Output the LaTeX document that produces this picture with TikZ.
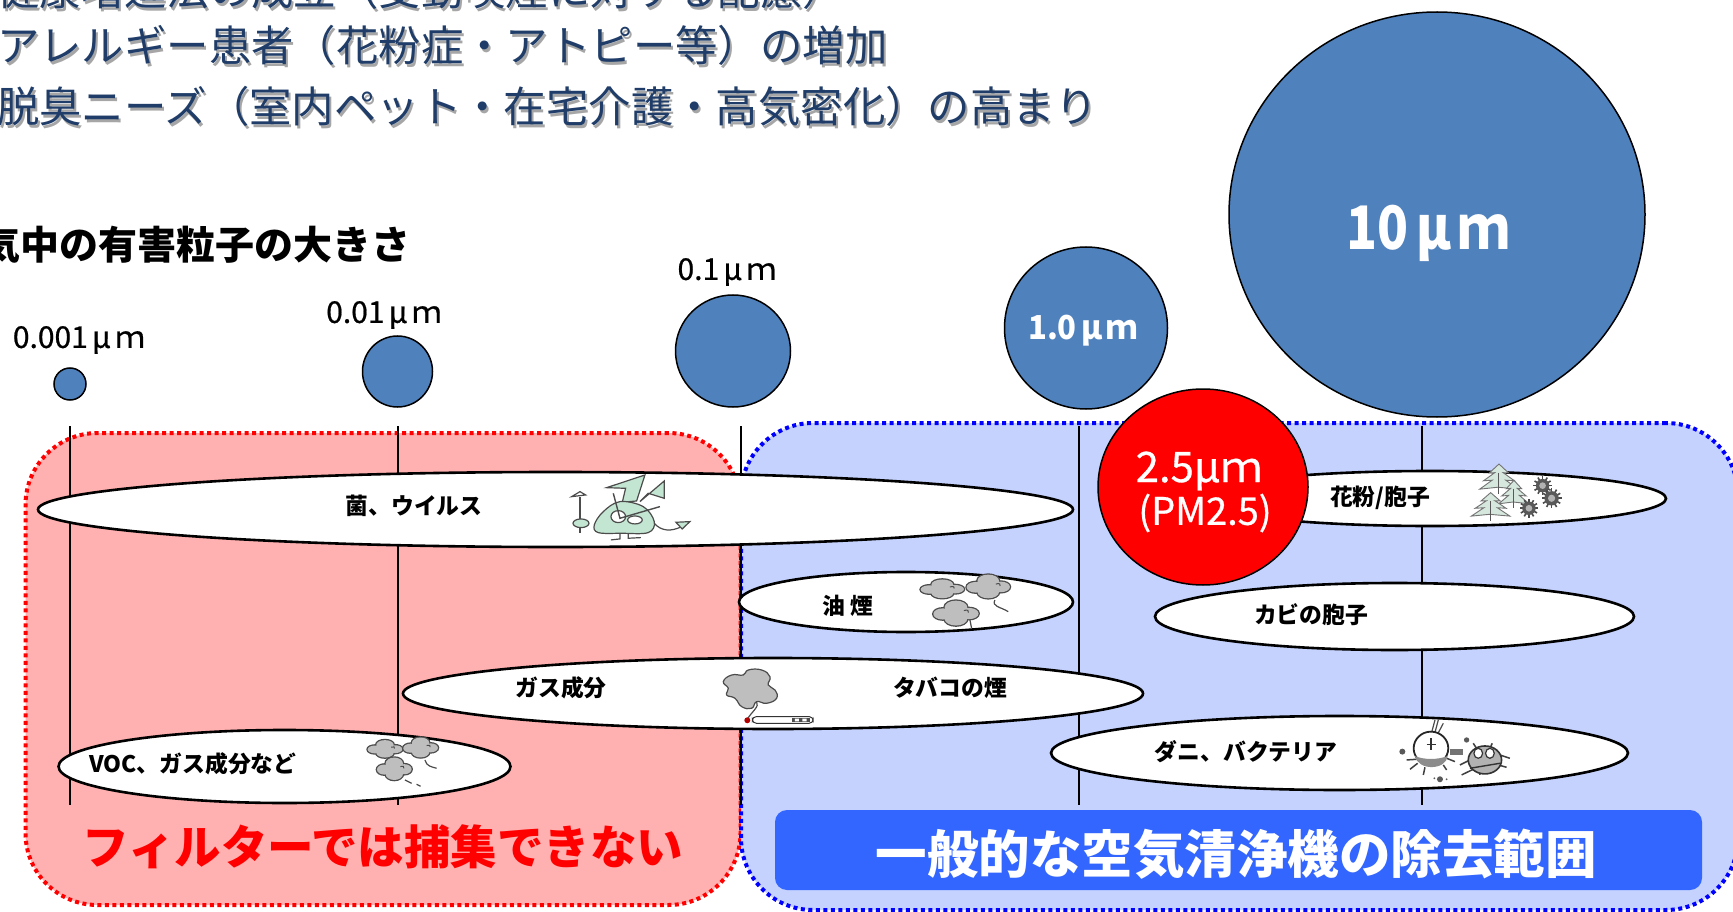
\documentclass[tikz,border=0pt]{standalone}
\usepackage{fontspec}
\usetikzlibrary{shapes,positioning}
\newfontfamily\jp{Noto Sans CJK JP}
\newfontfamily\jpmid[RawFeature={embolden=0.7}]{Noto Sans CJK JP}
\definecolor{headblue}{HTML}{1F3D68}
\definecolor{ballblue}{HTML}{4F81BD}
\definecolor{filterpink}{HTML}{FFB0B0}
\definecolor{cleanerblue}{HTML}{C5D2FD}
\definecolor{bannerblue}{HTML}{3366FF}
\definecolor{smoke}{HTML}{BEBEBE}
\definecolor{germ}{HTML}{C3E6D2}
\definecolor{pinegreen}{HTML}{D6E8DE}
\tikzstyle{head}=[font=\jp\fontsize{42.4}{50}\selectfont, text=headblue, anchor=west, inner sep=0]
\tikzstyle{headshadow}=[head, text=black!35]
\tikzstyle{ball}=[draw=black, line width=1.5pt, fill=ballblue, ellipse, inner sep=0]
\tikzstyle{size}=[font=\jpmid\fontsize{30}{36}\selectfont, inner sep=0]
\tikzstyle{particle}=[draw=black, line width=2.6pt, fill=white, ellipse, inner sep=0]
\tikzstyle{lbl}=[font=\jp\bfseries\fontsize{22.8}{27}\selectfont, inner sep=0]
\tikzstyle{zone}=[line width=4pt, dash pattern=on 4pt off 3.5pt, rounded corners=72pt, inner sep=0]
\tikzstyle{tick}=[draw=black, line width=2pt]
\tikzstyle{outline}=[draw=black!70, line width=1.2pt]
\newcommand{\headline}[3]{
    \node[headshadow] (#1s) at (0,#2) [xshift=-1pt, yshift=-3pt] {#3};
    \node[head] (#1) at (-3,#2) {#3};
}
\newcommand{\um}{\hspace{.14em}μ\hspace{.14em}ｍ}
\tikzset{
    puff/.pic={
        \foreach \cx/\cy/\r in {-0.58/0.05/0.42,0/-0.45/0.5,0.58/0.02/0.42,0/0.42/0.5} {
            \draw[draw=black!70, line width=2.6pt] (\cx,\cy) circle (\r);
        }
        \foreach \cx/\cy/\r in {-0.58/0.05/0.42,0/-0.45/0.5,0.58/0.02/0.42,0/0.42/0.5} {
            \fill[smoke] (\cx,\cy) circle (\r);
        }
        \fill[smoke] (0,0) circle (0.5);
        \draw[draw=black!70, line width=1pt] (0.35,-0.2) .. controls (0.5,-0.3) and (0.6,-0.2) .. (0.55,-0.05);
    },
    pine/.pic={
        \draw[draw=black!55, line width=0.9pt, fill=pinegreen] (0,-1) -- (-0.5,-0.4) -- (-0.22,-0.42) -- (-0.8,0.12) -- (-0.35,0.08) -- (-1,0.68) -- (-0.05,0.55) -- (1,0.68) -- (0.35,0.08) -- (0.8,0.12) -- (0.22,-0.42) -- (0.5,-0.4) -- cycle;
        \draw[draw=black!65, line width=1pt] (0,-0.4) -- (0,1);
    },
    spore/.pic={
        \foreach \a in {0,30,...,330} \draw[draw=black!70, line width=1.6pt] (0,0) -- (\a:1);
        \fill[black!65] (0,0) circle (0.72);
        \fill[black!30] (0,0) circle (0.36);
    }
}
\begin{document}
\begin{tikzpicture}[x=1pt,y=-1pt]
    \path[use as bounding box, clip] (0,0) rectangle (1733,912);

    \headline{lawline}{-11}{健康増進法の成立（受動喫煙に対する配慮）}
    \headline{allergyline}{45}{アレルギー患者（花粉症・アトピー等）の増加}
    \headline{odorline}{106}{脱臭ニーズ（室内ペット・在宅介護・高気密化）の高まり}
    \node[font=\jp\bfseries\fontsize{39}{46}\selectfont, anchor=east, inner sep=0] (sizetitle) at (411,245) {空気中の有害粒子の大きさ};

    \node[zone, draw=red, fill=filterpink, minimum width=715pt, minimum height=472pt] (filterzone) at (383,669) {};
    \node[zone, draw=blue, fill=cleanerblue, minimum width=997pt, minimum height=487pt] (cleanerzone) at (1239.5,666.5) {};

    \foreach \name/\xpos in {a/69.5,b/398,c/741,d/1079,e/1422} {
        \coordinate (top\name) at (\xpos,426);
        \coordinate (bot\name) at (\xpos,805);
        \draw[tick] (top\name) -- (bot\name);
    }

    \node[ball, minimum width=32pt, minimum height=32pt] (ballA) at (70,384) {};
    \node[ball, minimum width=70pt, minimum height=71pt] (ballB) at (397.5,371.5) {};
    \node[ball, minimum width=115pt, minimum height=112pt] (ballC) at (733,351) {};
    \node[ball, minimum width=163pt, minimum height=162pt] (ballD) at (1086,328) {};
    \node[ball, minimum width=416pt, minimum height=405pt] (ballF) at (1437,214.5) {};
    \node[size] (sizeA) at (79,340) {0.001\um};
    \node[size] (sizeB) at (384,315) {0.01\um};
    \node[size] (sizeC) at (727,272) {0.1\um};
    \node[size, text=white, font=\jp\bfseries\fontsize{33}{40}\selectfont, xscale=0.94, transform shape] (sizeD) at (1083,331) {1.0\um};
    \node[size, text=white, font=\jp\bfseries\fontsize{60}{70}\selectfont, xscale=0.85, transform shape] (sizeF) at (1428,233) {10\um};

    \node[particle, minimum width=1035pt, minimum height=75pt] (germs) at (555.5,509.5) {};
    \node[particle, minimum width=334pt, minimum height=60pt] (oil) at (906,602) {};
    \node[particle, minimum width=740pt, minimum height=71pt] (tobacco) at (773,693.5) {};
    \node[particle, minimum width=452pt, minimum height=73pt] (voc) at (284.5,766.5) {};
    \node[particle, minimum width=472pt, minimum height=55pt] (pollen) at (1430,498.5) {};
    \node[particle, minimum width=479pt, minimum height=67pt] (mold) at (1394.5,616.5) {};
    \node[particle, minimum width=577pt, minimum height=74pt] (mites) at (1339.5,753) {};

    \node[lbl] (germslbl) at (414,506) {菌、ウイルス};
    \node[lbl] (oillbl) at (848,606) {油 煙};
    \node[lbl] (gaslbl) at (561,688) {ガス成分};
    \node[lbl] (tobaccolbl) at (950,688) {タバコの煙};
    \node[lbl] (voclbl) at (193,764) {VOC、ガス成分など};
    \node[lbl] (pollenlbl) at (1380,498) {花粉/胞子};
    \node[lbl] (moldlbl) at (1311,615) {カビの胞子};
    \node[lbl] (miteslbl) at (1246,752) {ダニ、バクテリア};

    \node[ball, fill=red, minimum width=210pt, minimum height=196pt] (ballE) at (1203,487) {};
    \node[size, text=white, font=\jpmid\fontsize{42}{50}\selectfont] (sizeE) at (1199,471) {2.5μｍ};
    \node[size, text=white, font=\jpmid\fontsize{38}{46}\selectfont] (pmE) at (1205,513) {(PM2.5)};

    \node[font=\jp\bfseries\fontsize{46.5}{54}\selectfont, text=red, inner sep=0] (filtertext) at (383,847) {フィルターでは捕集できない};
    \node[fill=bannerblue, rounded corners=12pt, minimum width=927pt, minimum height=80pt, inner sep=0] (banner) at (1238.5,850) {};
    \node[font=\jp\bfseries\fontsize{51.5}{60}\selectfont, text=white, inner sep=0] (bannertext) at (1236,854) {一般的な空気清浄機の除去範囲};

    % germ with ears
    \begin{scope}[shift={(565,465)}, x=0.333pt, y=-0.333pt]
        \draw[outline, fill=germ] (125,68) -- (240,30) -- (215,108) -- (172,112) -- (182,70) -- cycle;
        \draw[outline, fill=germ] (225,110) -- (298,48) -- (298,100) -- (250,85) -- cycle;
        \draw[outline, fill=germ] plot[smooth cycle, tension=0.6] coordinates {(88,180) (115,140) (165,110) (235,125) (268,170) (250,203) (170,205) (100,203)};
        \draw[outline, fill=white] (160,155) ellipse (22 and 18);
        \draw[outline, fill=white] (210,165) ellipse (22 and 12);
        \draw[outline, line width=1.4pt] (145,85) -- (165,160) -- (285,125);
        \draw[outline] (45,95) -- (45,205);
        \draw[outline, fill=white] (20,95) -- (62,90) -- (45,80) -- cycle;
        \draw[outline, fill=germ] (48,175) ellipse (24 and 13);
        \draw[outline] (165,205) -- (165,222) -- (138,225);
        \draw[outline] (190,205) -- (190,220) -- (228,218);
        \draw[outline] (268,175) .. controls (290,200) and (320,200) .. (350,185);
        \draw[outline, fill=germ] (333,172) -- (375,170) -- (352,192) -- cycle;
    \end{scope}

    % smoke over the oil label
    \begin{scope}[shift={(910,565)}, x=0.333pt, y=-0.333pt]
        \pic[xscale=65, yscale=30] at (97,72) {puff};
        \pic[xscale=65, yscale=38] at (235,65) {puff};
        \pic[xscale=68, yscale=40] at (138,145) {puff};
        \draw[outline] (255,105) .. controls (245,125) and (270,125) .. (295,140);
        \draw[outline] (180,165) -- (185,190);
    \end{scope}

    % smoke and cigarette
    \begin{scope}[shift={(715,660)}, x=0.333pt, y=-0.333pt]
        \draw[outline, fill=smoke] plot[smooth cycle, tension=0.8] coordinates {(25,65) (50,45) (85,45) (100,30) (140,30) (165,50) (160,75) (180,90) (185,115) (155,130) (125,125) (110,145) (80,140) (60,115) (35,105) (40,85)};
        \draw[outline] (125,125) .. controls (135,140) and (110,155) .. (97,178);
        \draw[draw=black!80, line width=1pt, fill=white, rounded corners=4pt] (112,170) rectangle (295,190);
        \fill[black!70] (230,174) rectangle (285,186);
        \fill[white] (240,176) rectangle (252,184) (262,176) rectangle (275,184);
        \fill[red!70!black] (97,181) circle (9);
    \end{scope}

    % smoke in the VOC bubble
    \begin{scope}[shift={(355,725)}, x=0.333pt, y=-0.333pt]
        \pic[xscale=52, yscale=28] at (90,72) {puff};
        \pic[xscale=52, yscale=32] at (197,68) {puff};
        \pic[xscale=52, yscale=36] at (118,132) {puff};
        \draw[outline] (210,105) .. controls (215,125) and (230,125) .. (245,130);
        \draw[outline] (150,165) -- (170,175) (185,178) -- (197,184);
    \end{scope}

    % pines and spores
    \begin{scope}[shift={(1460,455)}, x=0.333pt, y=-0.333pt]
        \pic[xscale=58, yscale=45] at (117,72) {pine};
        \pic[xscale=46, yscale=42] at (162,118) {pine};
        \pic[xscale=58, yscale=42] at (92,155) {pine};
        \pic[scale=28] at (248,92) {spore};
        \pic[scale=30] at (275,130) {spore};
        \pic[scale=28] at (207,160) {spore};
    \end{scope}

    % mites
    \begin{scope}[shift={(1395,710)}, x=0.333pt, y=-0.333pt]
        \draw[outline] (120,30) -- (108,75) (130,30) -- (118,75) (145,40) -- (125,78);
        \draw[draw=black!75, line width=1.5pt] (35,150) -- (65,148) (45,178) -- (68,160) (85,195) -- (90,172) (155,180) -- (145,165) (180,155) -- (155,145);
        \fill[black!55] (165,118) rectangle (205,135);
        \draw[draw=black!85, line width=1.8pt, fill=white] (108,115) ellipse (52 and 50);
        \fill[black!45] (60,138) .. controls (85,150) and (130,150) .. (158,138) .. controls (155,180) and (70,185) .. cycle;
        \draw[draw=black!80, line width=1.2pt] (108,85) -- (108,120) (95,103) -- (122,103);
        \fill[black!65] (22,125) circle (9) (215,90) circle (8) (135,208) circle (9) (118,205) circle (3) (155,208) circle (3);
        \draw[draw=black!75, line width=1.5pt] (195,165) -- (225,150) (200,195) -- (235,178) (345,145) -- (315,135) (335,172) -- (310,165) (255,195) -- (255,180) (235,100) -- (245,115) (292,100) -- (285,115);
        \draw[draw=black!80, line width=1.6pt, fill=black!30] (270,150) ellipse (50 and 42);
        \draw[draw=black!80, line width=1.2pt, fill=white] (250,130) ellipse (13 and 15) (285,130) ellipse (13 and 15);
        \draw[draw=black!80, line width=1.4pt] (225,175) -- (315,160);
    \end{scope}
\end{tikzpicture}
\end{document}
